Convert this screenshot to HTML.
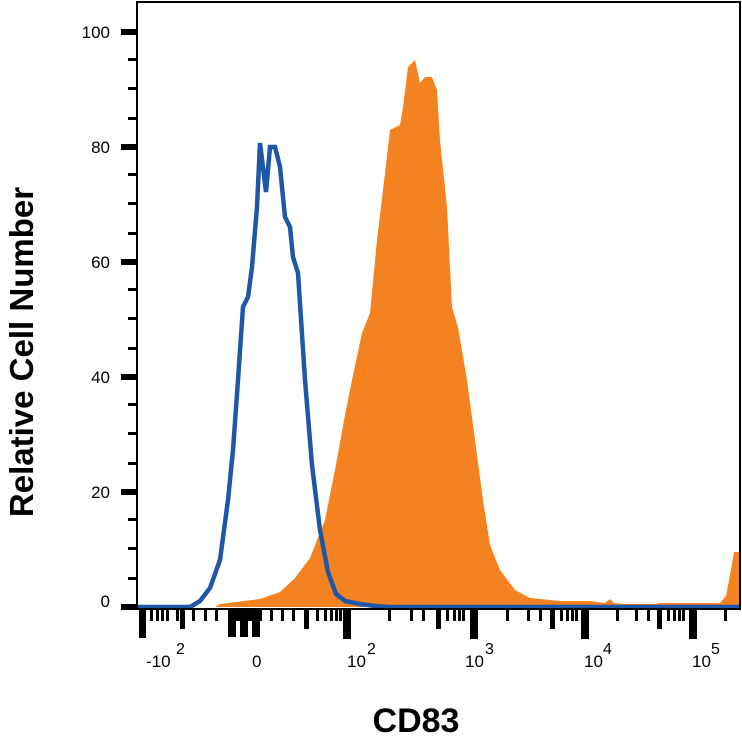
<!DOCTYPE html>
<html><head><style>
body{margin:0;background:#fff;}
svg{display:block;}
text{font-family:"Liberation Sans",sans-serif;}
</style></head><body>
<svg width="742" height="746" viewBox="0 0 742 746" xmlns="http://www.w3.org/2000/svg">
<rect width="742" height="746" fill="#fff"/>
<path fill="#f58220" d="M215,607 L220,604 L260,599 L280,592 L295,578 L310,558 L325,520 L335,470 L345,415 L352,380 L362,333 L370,313 L377,240 L385,173 L390,130 L400,125 L403,107 L408,67 L415,60 L420,83 L425,77 L432,77 L437,90 L440,140 L447,207 L452,307 L458,327 L467,380 L475,440 L483,500 L490,545 L500,570 L515,590 L530,598 L560,601 L590,601 L605,603 L610,599 L614,603 L625,604 L655,604 L660,603 L720,603 L726,596 L730,575 L734,552 L741,552 L741,607 Z"/>
<path fill="none" stroke="#1f57a8" stroke-width="4.5" stroke-linejoin="miter" d="M137,607 L190,607 L200,601 L210,588 L220,560 L228,500 L233,450 L238,380 L243,307 L248,297 L252,267 L257,207 L260,143 L266,192 L270,147 L275,147 L280,167 L285,217 L290,227 L293,257 L298,273 L305,380 L312,465 L320,530 L328,572 L336,594 L345,601 L360,604 L375,606 L390,607 L741,607"/>
<rect x="137" y="2" width="603" height="607" fill="none" stroke="#000" stroke-width="2"/>
<g fill="#000">
<rect x="121" y="29" width="16" height="6"/><rect x="121" y="144" width="16" height="6"/><rect x="121" y="259" width="16" height="6"/><rect x="121" y="374" width="16" height="6"/><rect x="121" y="489" width="16" height="6"/><rect x="121" y="604" width="16" height="6"/>
<rect x="128" y="58" width="9" height="3"/><rect x="128" y="87" width="9" height="3"/><rect x="128" y="117" width="9" height="3"/>
<rect x="128" y="173" width="9" height="3"/><rect x="128" y="202" width="9" height="3"/><rect x="128" y="232" width="9" height="3"/>
<rect x="128" y="288" width="9" height="3"/><rect x="128" y="317" width="9" height="3"/><rect x="128" y="347" width="9" height="3"/>
<rect x="128" y="403" width="9" height="3"/><rect x="128" y="432" width="9" height="3"/><rect x="128" y="462" width="9" height="3"/>
<rect x="128" y="518" width="9" height="3"/><rect x="128" y="547" width="9" height="3"/><rect x="128" y="577" width="9" height="3"/>
</g>
<g font-size="17" text-anchor="end" fill="#000">
<text x="110" y="38">100</text><text x="110" y="153">80</text><text x="110" y="268">60</text><text x="110" y="383">40</text><text x="110" y="498">20</text><text x="110" y="607">0</text>
</g>
<g fill="#000">
<rect x="139" y="609" width="7" height="29"/>
<rect x="150" y="609" width="3" height="12"/><rect x="156" y="609" width="3" height="12"/><rect x="161" y="609" width="3" height="12"/><rect x="166" y="609" width="3" height="12"/><rect x="176" y="609" width="3" height="12"/><rect x="180" y="609" width="5" height="20"/><rect x="192" y="609" width="3" height="12"/><rect x="204" y="609" width="3" height="12"/><rect x="215" y="609" width="3" height="12"/>
<rect x="228" y="609" width="34" height="12"/><rect x="228" y="609" width="8" height="28"/><rect x="240" y="609" width="8" height="28"/><rect x="252" y="609" width="8" height="28"/>
<rect x="270" y="609" width="3" height="12"/><rect x="281" y="609" width="3" height="12"/><rect x="292" y="609" width="3" height="12"/><rect x="304" y="609" width="5" height="20"/><rect x="316" y="609" width="3" height="12"/><rect x="324" y="609" width="3" height="12"/><rect x="330" y="609" width="3" height="12"/><rect x="335" y="609" width="3" height="12"/><rect x="339" y="609" width="3" height="12"/>
<rect x="343" y="609" width="8" height="30"/>
<rect x="388" y="609" width="3" height="12"/><rect x="410" y="609" width="3" height="12"/><rect x="422" y="609" width="3" height="12"/><rect x="436" y="609" width="5" height="20"/><rect x="446" y="609" width="3" height="12"/><rect x="453" y="609" width="3" height="12"/><rect x="458" y="609" width="3" height="12"/><rect x="462" y="609" width="3" height="12"/>
<rect x="470" y="609" width="8" height="30"/>
<rect x="506" y="609" width="3" height="12"/><rect x="527" y="609" width="3" height="12"/><rect x="539" y="609" width="3" height="12"/><rect x="550" y="609" width="5" height="20"/><rect x="560" y="609" width="3" height="12"/><rect x="566" y="609" width="3" height="12"/><rect x="571" y="609" width="3" height="12"/><rect x="575" y="609" width="3" height="12"/>
<rect x="581" y="609" width="8" height="30"/>
<rect x="616" y="609" width="3" height="12"/><rect x="635" y="609" width="3" height="12"/><rect x="647" y="609" width="3" height="12"/><rect x="657" y="609" width="5" height="20"/><rect x="667" y="609" width="3" height="12"/><rect x="673" y="609" width="3" height="12"/><rect x="678" y="609" width="3" height="12"/><rect x="682" y="609" width="3" height="12"/>
<rect x="689" y="609" width="8" height="30"/>
<rect x="724" y="609" width="3" height="12"/>
</g>
<g font-size="17" fill="#000">
<text x="146" y="667">-10</text><text x="176" y="654" font-size="16">2</text>
<text x="252" y="667">0</text>
<text x="347" y="667">10</text><text x="367" y="654" font-size="16">2</text>
<text x="465" y="667">10</text><text x="485" y="654" font-size="16">3</text>
<text x="584" y="667">10</text><text x="603" y="654" font-size="16">4</text>
<text x="692" y="667">10</text><text x="711" y="654" font-size="16">5</text>
</g>
<text x="416" y="732" font-size="34" font-weight="bold" text-anchor="middle">CD83</text>
<text transform="translate(33,352) rotate(-90)" font-size="33" font-weight="bold" text-anchor="middle">Relative Cell Number</text>
</svg>
</body></html>
